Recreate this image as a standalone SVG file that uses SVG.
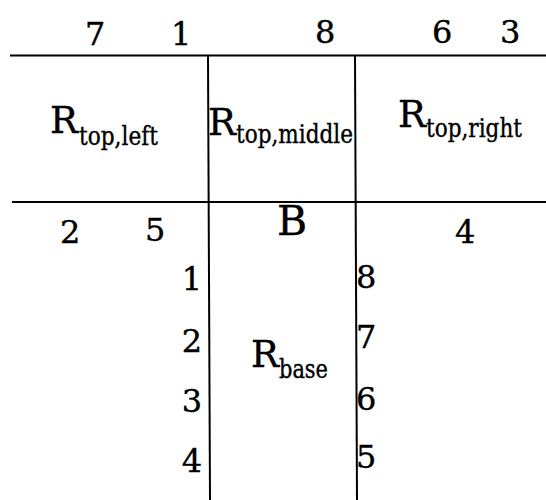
<svg xmlns="http://www.w3.org/2000/svg" width="546" height="500" viewBox="0 0 546 500">
<style>
text{font-family:'DejaVu Serif',serif;fill:#000;stroke:#000;stroke-width:0.4}
.d{font-size:32px}
.r{font-size:37px}
.s{font-size:26px}
.b{font-size:41px}
.ln{stroke:#000;stroke-width:2;fill:none}
</style>
<rect width="546" height="500" fill="#fff"/>
<g id="connectors">
<line class="ln" x1="10" y1="55.5" x2="546" y2="55.5"/>
<line class="ln" x1="12" y1="202" x2="546" y2="202"/>
<line class="ln" x1="208" y1="56" x2="210" y2="500"/>
<line class="ln" x1="355" y1="56" x2="357" y2="500"/>
</g>
<g id="top-labels">
<text class="d" x="85" y="45">7</text>
<text class="d" x="171" y="45">1</text>
<text class="d" x="315" y="43">8</text>
<text class="d" x="432" y="43">6</text>
<text class="d" x="500" y="43">3</text>
</g>
<g id="R_top_left">
<text class="r" x="50" y="133">R</text>
<text class="s" x="79" y="145" textLength="79" lengthAdjust="spacingAndGlyphs">top,left</text>
</g>
<g id="R_top_middle">
<text class="r" x="208" y="135">R</text>
<text class="s" x="236" y="143" textLength="117" lengthAdjust="spacingAndGlyphs">top,middle</text>
</g>
<g id="R_top_right">
<text class="r" x="398" y="127">R</text>
<text class="s" x="426" y="137" textLength="96" lengthAdjust="spacingAndGlyphs">top,right</text>
</g>
<g id="B">
<text class="b" x="277" y="235">B</text>
</g>
<g id="bottom-labels">
<text class="d" x="60" y="243">2</text>
<text class="d" x="145" y="241">5</text>
<text class="d" x="455" y="243">4</text>
</g>
<g id="left-ports">
<text class="d" x="202" y="290" text-anchor="end">1</text>
<text class="d" x="202" y="352" text-anchor="end">2</text>
<text class="d" x="202" y="412" text-anchor="end">3</text>
<text class="d" x="202" y="472" text-anchor="end">4</text>
</g>
<g id="right-ports">
<text class="d" x="356" y="288">8</text>
<text class="d" x="356" y="348">7</text>
<text class="d" x="356" y="410">6</text>
<text class="d" x="356" y="468">5</text>
</g>
<g id="R_base">
<text class="r" x="251" y="367">R</text>
<text class="s" x="279" y="378" textLength="49" lengthAdjust="spacingAndGlyphs">base</text>
</g>
</svg>
